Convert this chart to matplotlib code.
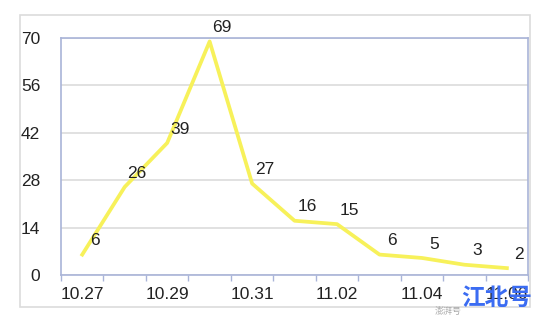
import numpy as np
import matplotlib.pyplot as plt
from matplotlib.patches import Rectangle

# 每日数据
dates = ['10.27', '10.28', '10.29', '10.30', '10.31', '11.01',
         '11.02', '11.03', '11.04', '11.05', '11.06']
counts = [6, 26, 39, 69, 27, 16, 15, 6, 5, 3, 2]
yticks = [0, 14, 28, 42, 56, 70]

plt.rcParams['font.family'] = ['Liberation Sans', 'Noto Sans CJK SC', 'DejaVu Sans']

fig = plt.figure(figsize=(5.4, 3.2), dpi=100)
fig.patches.append(Rectangle((0.037, 0.041), 0.944, 0.912, transform=fig.transFigure,
                             fill=False, edgecolor='#dcdcdc', linewidth=1.2))
ax = fig.add_axes([0.113, 0.141, 0.865, 0.74])

x = np.arange(len(dates))
ax.plot(x, counts, color='#f7f15a', linewidth=2.7, solid_joinstyle='round', zorder=3)
for xi, v in zip(x, counts):
    ax.annotate(str(v), (xi, v), xytext=(9, 10), textcoords='offset points',
                ha='center', va='center', fontsize=12.5, color='#222222')

ax.set_xlim(-0.5, len(dates) - 0.5)
ax.set_ylim(0, 70)
ax.set_yticks(yticks)
ax.set_yticklabels([str(t) for t in yticks])
ax.set_xticks(x[::2])
ax.set_xticklabels(dates[::2])
ax.set_xticks(np.arange(-0.5, len(dates), 1), minor=True)
ax.tick_params(axis='x', which='major', length=0, pad=9, labelsize=12.5, colors='#222222')
ax.tick_params(axis='x', which='minor', length=4, width=1, color='#a9b4d8')
ax.tick_params(axis='y', length=0, pad=15, labelsize=12.5, colors='#222222')

ax.grid(axis='y', color='#d8d8d8', linewidth=1.1)
ax.set_axisbelow(True)
for s in ax.spines.values():
    s.set_color('#a9b4d8')
    s.set_linewidth(1.2)

# 水印
fig.text(0.985, 0.03, '江北号', color='#3b6cf2', fontsize=17, fontweight='bold',
         ha='right', va='bottom', zorder=10)
fig.text(0.855, 0.012, '澎湃号', color='#aaaaaa', fontsize=6.5, ha='right', va='bottom')

fig.savefig('out.png', dpi=100)
